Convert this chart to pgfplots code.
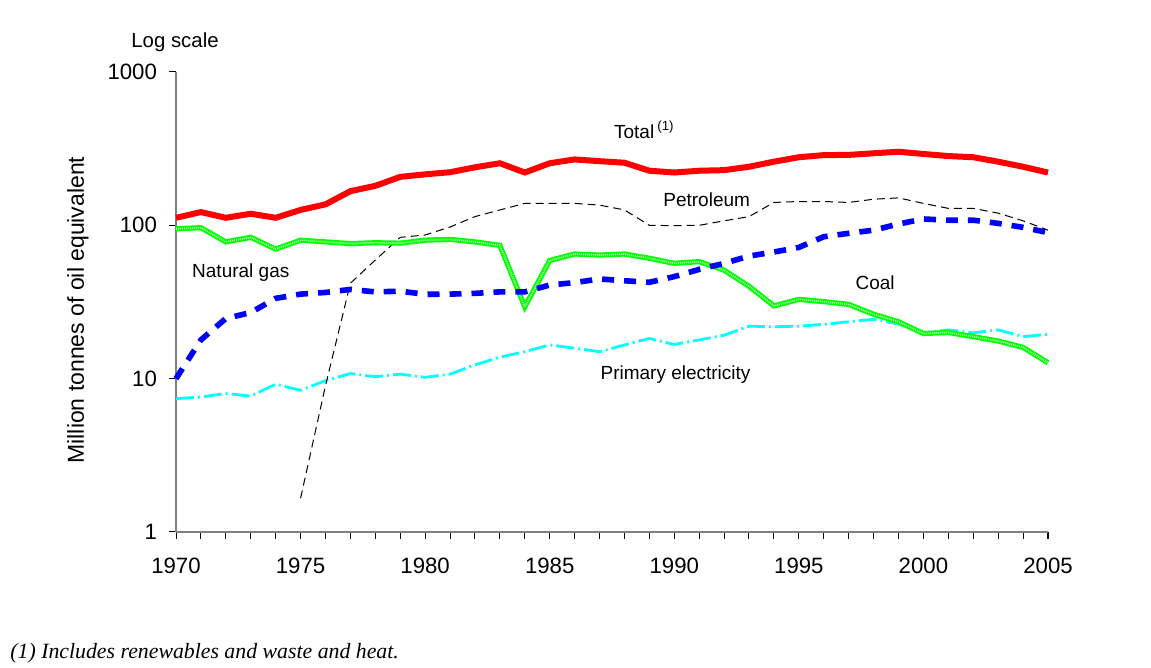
\documentclass[border=0pt]{standalone}
\usepackage{fontspec}
\setmainfont{Liberation Sans}
\newfontfamily\footfont{Liberation Serif}
\usepackage{pgfplots}
\usepackage{pgfplotstable}
\pgfplotsset{compat=1.18}

\pgfplotstableread{
year total coal gas elec
1970 112 95 10 7.4
1971 122 96.5 17.9 7.6
1972 112 78 24.7 8.0
1973 119 83.5 27 7.7
1974 112 70 33.4 9.2
1975 126 80 35.6 8.4
1976 137 78 36.5 9.7
1977 167 76 38.2 10.8
1978 181 77 36.8 10.3
1979 207 76.5 37.2 10.7
1980 215 80 35.5 10.2
1981 222 81 35.6 10.7
1982 239 78 36 12.3
1983 254 74 36.8 13.8
1984 221 29.4 36.8 15
1985 254 59 40.8 16.6
1986 269 65 42.3 15.8
1987 262 64 44.7 15
1988 256 65 43.5 16.6
1989 227 61 42.5 18.3
1990 221 56.5 46.3 16.7
1991 227 58 51.6 17.9
1992 229 51 56.5 19.2
1993 241 40 63 22
1994 260 29.8 67 21.8
1995 278 32.9 71.8 22
1996 287 31.8 84.3 22.6
1997 288 30.5 88.7 23.5
1998 295 26.3 93 24.4
1999 302 23.5 102 22.7
2000 292 19.7 110 19.9
2001 283 20 108 20.8
2002 278 18.8 108 19.9
2003 260 17.6 103 20.8
2004 241 16 97 18.8
2005 221 12.7 89.6 19.5
}\datatable

\pgfplotstableread{
year petrol
1975 1.66
1976 9
1977 41.9
1978 59.4
1979 83.5
1980 86.5
1981 97.5
1982 114
1983 126
1984 139
1985 139
1986 139
1987 135.5
1988 126
1989 100
1990 99.5
1991 100
1992 107
1993 114
1994 141
1995 143
1996 143
1997 141
1998 148
1999 151
2000 139
2001 129
2002 129
2003 120
2004 107
2005 93
}\petroltable

\definecolor{axgray}{HTML}{808080}
\definecolor{linered}{HTML}{FF0000}
\definecolor{lineblue}{HTML}{0000FF}
\definecolor{linegreen}{HTML}{00FF00}
\definecolor{linecyan}{HTML}{00FFFF}

\begin{document}
\begin{tikzpicture}[font=\fontsize{9.5pt}{11pt}\selectfont]
\useasboundingbox (0,0) rectangle (575.5pt,334pt);
\begin{axis}[
  at={(88pt,68pt)}, anchor=south west,
  scale only axis, width=436pt, height=230pt,
  ymode=log, ymin=1, ymax=1000, xmin=1970, xmax=2005,
  axis lines=left, axis line style={-, axgray, line width=0.6pt},
  tick align=outside, major tick length=3.5pt, minor tick length=3.5pt,
  tick style={black, line width=0.5pt},
  xtick={1970,1975,...,2005},
  xticklabels={1970,1975,1980,1985,1990,1995,2000,2005},
  minor xtick={1970,...,2005},
  ytick={1,10,100,1000}, yticklabels={1,10,100,1000},
  yminorticks=false,
  tick label style={font=\fontsize{11.1pt}{13pt}\selectfont},
  xticklabel style={yshift=-6pt},
  yticklabel style={xshift=-2.5pt},
  clip=false,
]
\addplot[linecyan, line width=1.4pt, dash pattern=on 9pt off 2pt on 1pt off 2pt] table[x=year,y=elec] {\datatable};
\addplot[black, line width=0.5pt, dash pattern=on 4pt off 2.5pt] table[x=year,y=petrol] {\petroltable};
\addplot[linegreen, line width=2.6pt] table[x=year,y=coal] {\datatable};
\addplot[linegreen!30!white, line width=0.9pt, dash pattern=on 0.5pt off 0.5pt] table[x=year,y=coal] {\datatable};
\addplot[lineblue, line width=2.8pt, dash pattern=on 6pt off 5pt] table[x=year,y=gas] {\datatable};
\addplot[linered, line width=3pt] table[x=year,y=total] {\datatable};

\node at (axis cs:1988.8,419) {Total\,\textsuperscript{(1)}};
\node at (axis cs:1991.3,146) {Petroleum};
\node at (axis cs:1972.6,49.5) {Natural gas};
\node at (axis cs:1998.06,42) {Coal};
\node at (axis cs:1990.05,10.7) {Primary electricity};
\end{axis}
\node[rotate=90, font=\fontsize{11.5pt}{13pt}\selectfont] at (39pt,179pt) {Million tonnes of oil equivalent};
\node[font=\fontsize{10.2pt}{12pt}\selectfont] at (87.5pt,313pt) {Log scale};
\node[anchor=west, inner sep=0pt] at (5pt,7.5pt) {\footfont\itshape\fontsize{10.9pt}{12pt}\selectfont (1) Includes renewables and waste and heat.};
\end{tikzpicture}
\end{document}
